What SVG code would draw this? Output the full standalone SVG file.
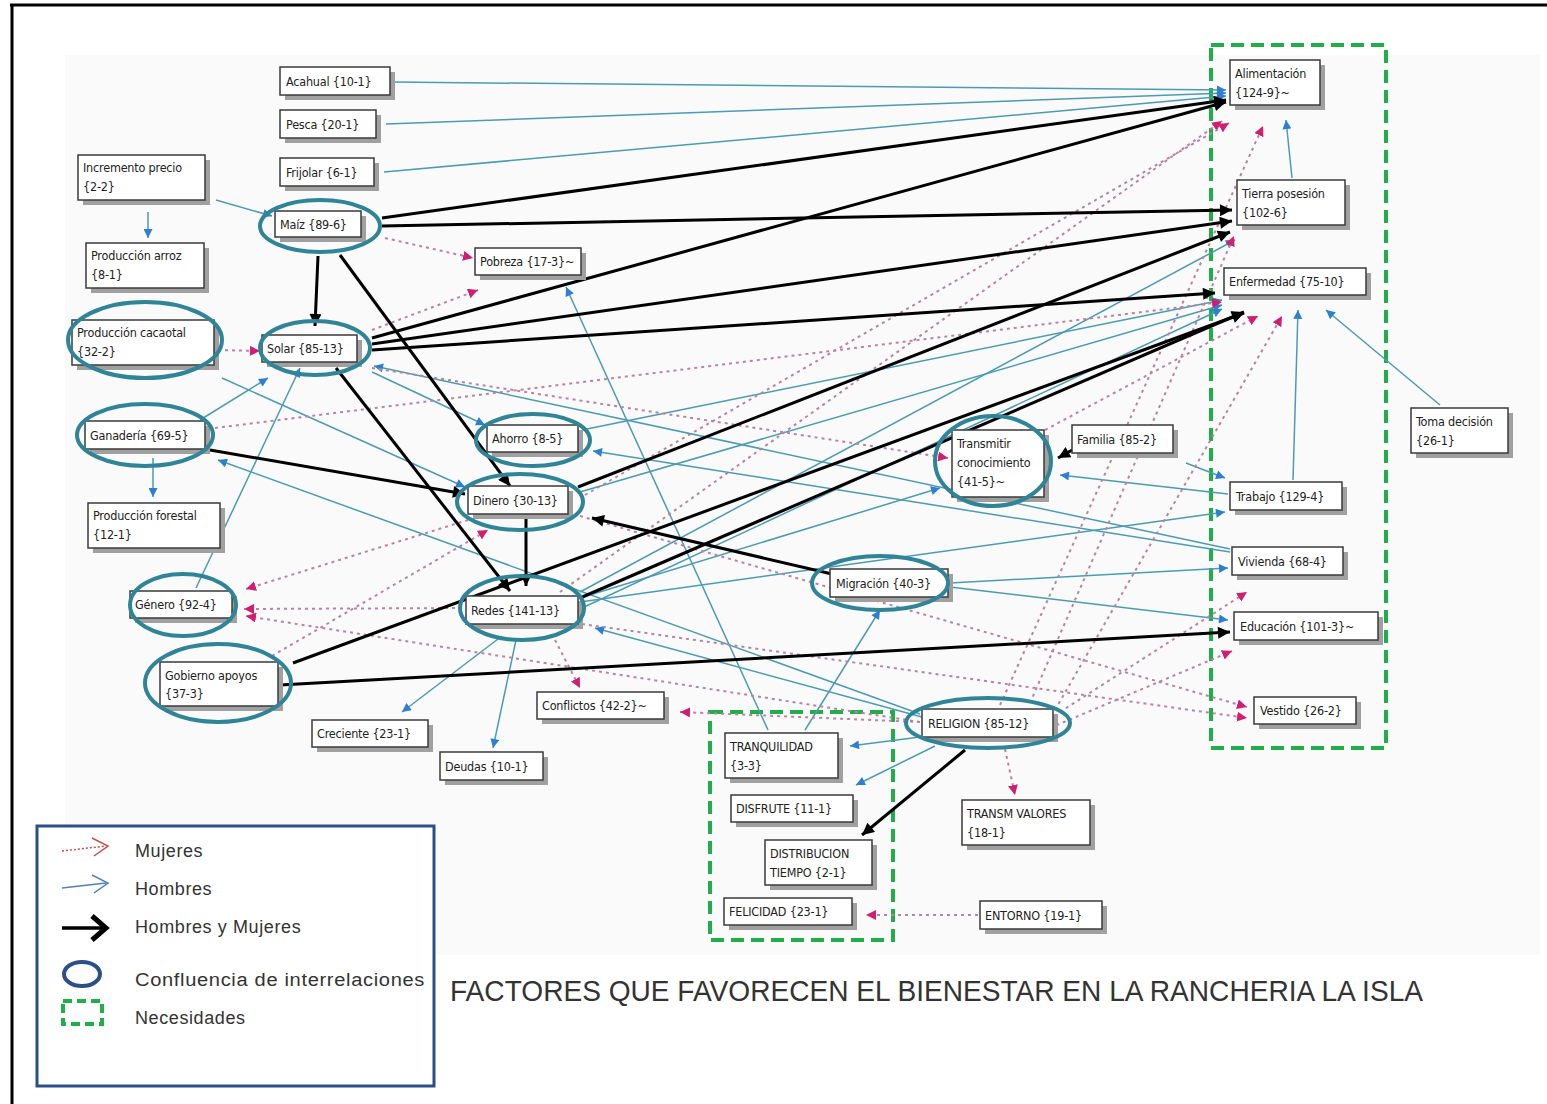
<svg xmlns="http://www.w3.org/2000/svg" width="1547" height="1104" viewBox="0 0 1547 1104">
<style>
.bx{fill:#fff;stroke:#3a3a3a;stroke-width:1.5}
.sh{fill:#a0a0a0}
.t{font-family:"DejaVu Sans Condensed","Liberation Sans Narrow","Liberation Sans",sans-serif;font-size:12.5px;letter-spacing:-0.2px;fill:#222}
.el{fill:none;stroke:#2f8597;stroke-width:4}
.h{fill:none;stroke:#4b9bb3;stroke-width:1.5;marker-end:url(#ah)}
.m{fill:none;stroke:#b9849f;stroke-width:2;stroke-dasharray:3 4;marker-end:url(#am)}
.b{fill:none;stroke:#000;stroke-width:3;marker-end:url(#ab)}
.nd{fill:none;stroke:#1fae48;stroke-width:4;stroke-dasharray:13 7}
.lg{font-family:"Liberation Sans",Arial,sans-serif;font-size:18px;fill:#333;letter-spacing:0.6px}
</style>
<defs>
<marker id="ah" viewBox="0 0 10 10" refX="10" refY="5" markerWidth="10" markerHeight="9" markerUnits="userSpaceOnUse" orient="auto"><path d="M0,0 L10,5 L0,10 z" fill="#2f7fd0"/></marker>
<marker id="am" viewBox="0 0 10 10" refX="10" refY="5" markerWidth="10" markerHeight="10" markerUnits="userSpaceOnUse" orient="auto"><path d="M0,0 L10,5 L0,10 z" fill="#d01f6e"/></marker>
<marker id="ab" viewBox="0 0 10 10" refX="10" refY="5" markerWidth="15" markerHeight="12" markerUnits="userSpaceOnUse" orient="auto"><path d="M0,0 L10,5 L0,10 z" fill="#000"/></marker>
</defs>
<rect x="0" y="0" width="1547" height="1104" fill="#fff"/>
<rect x="65" y="55" width="1475" height="900" fill="#fafafa"/>
<line x1="10" y1="5" x2="1547" y2="5" stroke="#000" stroke-width="3"/>
<line x1="12" y1="4" x2="12" y2="1104" stroke="#000" stroke-width="3"/>

<g id="needs-groups">
<rect class="nd" x="1211" y="45" width="175" height="703"/>
<rect class="nd" x="710" y="712" width="183" height="228"/>
</g>

<g id="connectors">
<!-- Hombres -->
<path class="h" d="M392,82 L1226,90"/>
<path class="h" d="M386,124 L1226,93"/>
<path class="h" d="M384,172 L1226,96"/>
<path class="h" d="M216,200 L272,216"/>
<path class="h" d="M148,212 L148,238"/>
<path class="h" d="M153,458 L153,497"/>
<path class="h" d="M200,420 L268,378"/>
<path class="h" d="M196,588 L300,368"/>
<path class="h" d="M222,378 L465,487"/>
<path class="h" d="M372,372 L485,425"/>
<path class="h" d="M920,714 L218,460"/>
<path class="h" d="M1228,494 L1060,475"/>
<path class="h" d="M1186,463 L1225,478"/>
<path class="h" d="M950,583 L1228,568"/>
<path class="h" d="M1230,552 L593,451"/>
<path class="h" d="M1230,549 L374,366"/>
<path class="h" d="M950,587 L1228,620"/>
<path class="h" d="M580,602 L1225,512"/>
<path class="h" d="M580,598 L940,488"/>
<path class="h" d="M1293,480 L1298,310"/>
<path class="h" d="M1440,405 L1326,310"/>
<path class="h" d="M1292,178 L1286,120"/>
<path class="h" d="M502,636 L402,712"/>
<path class="h" d="M516,640 L493,748"/>
<path class="h" d="M768,730 L566,287"/>
<path class="h" d="M805,730 L880,610"/>
<path class="h" d="M920,737 L850,746"/>
<path class="h" d="M935,746 L856,785"/>
<path class="h" d="M922,717 L595,628"/>
<path class="h" d="M582,430 L1222,300"/>
<path class="h" d="M580,492 L1222,305"/>
<path class="h" d="M582,608 L1222,309"/>
<path class="h" d="M580,592 L1235,240"/>
<!-- Mujeres -->
<path class="m" d="M385,238 L473,258"/>
<path class="m" d="M372,330 L478,290"/>
<path class="m" d="M218,350 L260,351"/>
<path class="m" d="M215,428 L1222,302"/>
<path class="m" d="M372,368 L948,458"/>
<path class="m" d="M462,608 L244,609"/>
<path class="m" d="M468,520 L246,589"/>
<path class="m" d="M272,656 L488,530"/>
<path class="m" d="M920,722 L246,616"/>
<path class="m" d="M555,640 L580,688"/>
<path class="m" d="M920,722 L680,712"/>
<path class="m" d="M978,915 L866,915"/>
<path class="m" d="M1005,749 L1015,795"/>
<path class="m" d="M580,516 L1247,707"/>
<path class="m" d="M582,624 L1247,718"/>
<path class="m" d="M1060,712 L1247,592"/>
<path class="m" d="M1050,728 L1232,651"/>
<path class="m" d="M560,592 L1222,121"/>
<path class="m" d="M585,495 L1229,123"/>
<path class="m" d="M1000,705 L1263,126"/>
<path class="m" d="M1030,703 L1234,236"/>
<path class="m" d="M1045,430 L1258,316"/>
<path class="m" d="M1055,710 L1282,316"/>
<!-- Hombres y Mujeres -->
<path class="b" d="M382,218 L1226,100"/>
<path class="b" d="M382,226 L1232,210"/>
<path class="b" d="M318,256 L315,326"/>
<path class="b" d="M340,255 L510,486"/>
<path class="b" d="M372,338 L1226,102"/>
<path class="b" d="M372,344 L1232,221"/>
<path class="b" d="M372,350 L1215,293"/>
<path class="b" d="M336,368 L510,591"/>
<path class="b" d="M210,450 L465,494"/>
<path class="b" d="M526,514 L526,586"/>
<path class="b" d="M578,487 L1230,232"/>
<path class="b" d="M580,598 L1244,312"/>
<path class="b" d="M293,663 L1244,313"/>
<path class="b" d="M280,685 L1230,632"/>
<path class="b" d="M832,574 L592,518"/>
<path class="b" d="M965,750 L862,835"/>
<path class="b" d="M1074,449 L1058,458"/>
</g>

<g id="n-acahual"><rect class="sh" x="285" y="72" width="110" height="28"/><rect class="bx" x="280" y="67" width="110" height="28"/><text class="t" x="286" y="86">Acahual {10-1}</text></g>
<g id="n-pesca"><rect class="sh" x="285" y="115" width="96" height="28"/><rect class="bx" x="280" y="110" width="96" height="28"/><text class="t" x="286" y="129">Pesca {20-1}</text></g>
<g id="n-frijolar"><rect class="sh" x="285" y="163" width="94" height="28"/><rect class="bx" x="280" y="158" width="94" height="28"/><text class="t" x="286" y="177">Frijolar {6-1}</text></g>
<g id="n-incremento"><rect class="sh" x="83" y="160" width="127" height="45"/><rect class="bx" x="78" y="155" width="127" height="45"/><text class="t" x="83" y="172">Incremento precio</text><text class="t" x="83" y="191">{2-2}</text></g>
<g id="n-arroz"><rect class="sh" x="91" y="248" width="118" height="45"/><rect class="bx" x="86" y="243" width="118" height="45"/><text class="t" x="91" y="260">Producción arroz</text><text class="t" x="91" y="279">{8-1}</text></g>
<g id="n-maiz"><rect class="sh" x="280" y="216" width="86" height="26"/><rect class="bx" x="275" y="211" width="86" height="26"/><text class="t" x="280" y="229">Maíz {89-6}</text><ellipse class="el" cx="320" cy="226" rx="60" ry="26"/></g>
<g id="n-pobreza"><rect class="sh" x="480" y="253" width="106" height="27"/><rect class="bx" x="475" y="248" width="106" height="27"/><text class="t" x="480" y="266">Pobreza {17-3}~</text></g>
<g id="n-cacaotal"><rect class="sh" x="77" y="325" width="142" height="45"/><rect class="bx" x="72" y="320" width="142" height="45"/><text class="t" x="77" y="337">Producción cacaotal</text><text class="t" x="77" y="356">{32-2}</text><ellipse class="el" cx="145" cy="340" rx="77" ry="38"/></g>
<g id="n-solar"><rect class="sh" x="267" y="340" width="95" height="27"/><rect class="bx" x="262" y="335" width="95" height="27"/><text class="t" x="267" y="353">Solar {85-13}</text><ellipse class="el" cx="315" cy="348" rx="55" ry="27"/></g>
<g id="n-ganaderia"><rect class="sh" x="90" y="426" width="120" height="28"/><rect class="bx" x="85" y="421" width="120" height="28"/><text class="t" x="90" y="440">Ganadería {69-5}</text><ellipse class="el" cx="145" cy="435" rx="68" ry="31"/></g>
<g id="n-forestal"><rect class="sh" x="93" y="508" width="132" height="45"/><rect class="bx" x="88" y="503" width="132" height="45"/><text class="t" x="93" y="520">Producción forestal</text><text class="t" x="93" y="539">{12-1}</text></g>
<g id="n-ahorro"><rect class="sh" x="492" y="430" width="91" height="27"/><rect class="bx" x="487" y="425" width="91" height="27"/><text class="t" x="492" y="443">Ahorro {8-5}</text><ellipse class="el" cx="533" cy="440" rx="57" ry="26"/></g>
<g id="n-dinero"><rect class="sh" x="473" y="491" width="100" height="28"/><rect class="bx" x="468" y="486" width="100" height="28"/><text class="t" x="473" y="505">Dinero {30-13}</text><ellipse class="el" cx="520" cy="502" rx="63" ry="28"/></g>
<g id="n-redes"><rect class="sh" x="471" y="601" width="112" height="28"/><rect class="bx" x="466" y="596" width="112" height="28"/><text class="t" x="471" y="615">Redes {141-13}</text><ellipse class="el" cx="522" cy="608" rx="62" ry="32"/></g>
<g id="n-genero"><rect class="sh" x="135" y="596" width="102" height="27"/><rect class="bx" x="130" y="591" width="102" height="27"/><text class="t" x="135" y="609">Género {92-4}</text><ellipse class="el" cx="183" cy="605" rx="53" ry="31"/></g>
<g id="n-gobierno"><rect class="sh" x="165" y="667" width="118" height="44"/><rect class="bx" x="160" y="662" width="118" height="44"/><text class="t" x="165" y="680">Gobierno apoyos</text><text class="t" x="165" y="698">{37-3}</text><ellipse class="el" cx="218" cy="683" rx="73" ry="39"/></g>
<g id="n-creciente"><rect class="sh" x="317" y="725" width="116" height="27"/><rect class="bx" x="312" y="720" width="116" height="27"/><text class="t" x="317" y="738">Creciente {23-1}</text></g>
<g id="n-deudas"><rect class="sh" x="445" y="757" width="103" height="28"/><rect class="bx" x="440" y="752" width="103" height="28"/><text class="t" x="445" y="771">Deudas {10-1}</text></g>
<g id="n-conflictos"><rect class="sh" x="542" y="697" width="127" height="27"/><rect class="bx" x="537" y="692" width="127" height="27"/><text class="t" x="542" y="710">Conflictos {42-2}~</text></g>
<g id="n-migracion"><rect class="sh" x="835" y="574" width="118" height="28"/><rect class="bx" x="830" y="569" width="118" height="28"/><text class="t" x="836" y="588">Migración {40-3}</text><ellipse class="el" cx="880" cy="583" rx="68" ry="27"/></g>
<g id="n-transmitir"><rect class="sh" x="957" y="435" width="92" height="67"/><rect class="bx" x="952" y="430" width="92" height="67"/><text class="t" x="957" y="448">Transmitir</text><text class="t" x="957" y="467">conocimiento</text><text class="t" x="957" y="486">{41-5}~</text><ellipse class="el" cx="993" cy="461" rx="58" ry="45"/></g>
<g id="n-familia"><rect class="sh" x="1077" y="430" width="101" height="28"/><rect class="bx" x="1072" y="425" width="101" height="28"/><text class="t" x="1077" y="444">Familia {85-2}</text></g>
<g id="n-religion"><rect class="sh" x="927" y="714" width="131" height="28"/><rect class="bx" x="922" y="709" width="131" height="28"/><text class="t" x="928" y="728">RELIGION {85-12}</text><ellipse class="el" cx="988" cy="723" rx="82" ry="25"/></g>
<g id="n-tranquilidad"><rect class="sh" x="730" y="738" width="113" height="45"/><rect class="bx" x="725" y="733" width="113" height="45"/><text class="t" x="730" y="751">TRANQUILIDAD</text><text class="t" x="730" y="770">{3-3}</text></g>
<g id="n-disfrute"><rect class="sh" x="736" y="800" width="122" height="27"/><rect class="bx" x="731" y="795" width="122" height="27"/><text class="t" x="736" y="813">DISFRUTE {11-1}</text></g>
<g id="n-distribucion"><rect class="sh" x="770" y="845" width="107" height="45"/><rect class="bx" x="765" y="840" width="107" height="45"/><text class="t" x="770" y="858">DISTRIBUCION</text><text class="t" x="770" y="877">TIEMPO {2-1}</text></g>
<g id="n-felicidad"><rect class="sh" x="729" y="903" width="128" height="27"/><rect class="bx" x="724" y="898" width="128" height="27"/><text class="t" x="729" y="916">FELICIDAD {23-1}</text></g>
<g id="n-entorno"><rect class="sh" x="985" y="906" width="122" height="28"/><rect class="bx" x="980" y="901" width="122" height="28"/><text class="t" x="985" y="920">ENTORNO {19-1}</text></g>
<g id="n-transm"><rect class="sh" x="967" y="805" width="128" height="45"/><rect class="bx" x="962" y="800" width="128" height="45"/><text class="t" x="967" y="818">TRANSM VALORES</text><text class="t" x="967" y="837">{18-1}</text></g>
<g id="n-alimentacion"><rect class="sh" x="1235" y="65" width="90" height="45"/><rect class="bx" x="1230" y="60" width="90" height="45"/><text class="t" x="1235" y="78">Alimentación</text><text class="t" x="1235" y="97">{124-9}~</text></g>
<g id="n-tierra"><rect class="sh" x="1242" y="185" width="108" height="45"/><rect class="bx" x="1237" y="180" width="108" height="45"/><text class="t" x="1242" y="198">Tierra posesión</text><text class="t" x="1242" y="217">{102-6}</text></g>
<g id="n-enfermedad"><rect class="sh" x="1229" y="273" width="142" height="27"/><rect class="bx" x="1224" y="268" width="142" height="27"/><text class="t" x="1229" y="286">Enfermedad {75-10}</text></g>
<g id="n-toma"><rect class="sh" x="1416" y="413" width="97" height="45"/><rect class="bx" x="1411" y="408" width="97" height="45"/><text class="t" x="1416" y="426">Toma decisión</text><text class="t" x="1416" y="445">{26-1}</text></g>
<g id="n-trabajo"><rect class="sh" x="1235" y="487" width="112" height="28"/><rect class="bx" x="1230" y="482" width="112" height="28"/><text class="t" x="1236" y="501">Trabajo {129-4}</text></g>
<g id="n-vivienda"><rect class="sh" x="1237" y="552" width="111" height="28"/><rect class="bx" x="1232" y="547" width="111" height="28"/><text class="t" x="1238" y="566">Vivienda {68-4}</text></g>
<g id="n-educacion"><rect class="sh" x="1239" y="617" width="144" height="28"/><rect class="bx" x="1234" y="612" width="144" height="28"/><text class="t" x="1240" y="631">Educación {101-3}~</text></g>
<g id="n-vestido"><rect class="sh" x="1259" y="702" width="102" height="27"/><rect class="bx" x="1254" y="697" width="102" height="27"/><text class="t" x="1260" y="715">Vestido {26-2}</text></g>

<g id="legend">
<rect x="37" y="826" width="397" height="260" fill="#fff" stroke="#2b4f87" stroke-width="3"/>
<path d="M62,851 L106,846" fill="none" stroke="#c0504d" stroke-width="1.5" stroke-dasharray="2 2"/>
<path d="M92,838 L108,846 L94,856" fill="none" stroke="#c0504d" stroke-width="1.5"/>
<path d="M62,888 L106,883" fill="none" stroke="#4f81bd" stroke-width="1.5"/>
<path d="M92,875 L108,883 L94,893" fill="none" stroke="#4f81bd" stroke-width="1.5"/>
<path d="M62,928 L104,928" fill="none" stroke="#000" stroke-width="3.5"/>
<path d="M92,916 L106,928 L92,940" fill="none" stroke="#000" stroke-width="5"/>
<ellipse cx="82" cy="974" rx="18" ry="12" fill="none" stroke="#2b4f87" stroke-width="4"/>
<rect x="63" y="1001" width="39" height="23" fill="none" stroke="#1fae48" stroke-width="4" stroke-dasharray="9 5"/>
<text class="lg" x="135" y="857">Mujeres</text>
<text class="lg" x="135" y="895">Hombres</text>
<text class="lg" x="135" y="933">Hombres y Mujeres</text>
<text class="lg" x="135" y="986" textLength="290" lengthAdjust="spacingAndGlyphs">Confluencia de interrelaciones</text>
<text class="lg" x="135" y="1024">Necesidades</text>
</g>

<text id="title" x="450" y="1001" font-family="Liberation Sans, Arial, sans-serif" font-size="29" fill="#333" textLength="973" lengthAdjust="spacingAndGlyphs">FACTORES QUE FAVORECEN EL BIENESTAR EN LA RANCHERIA LA ISLA</text>
</svg>
